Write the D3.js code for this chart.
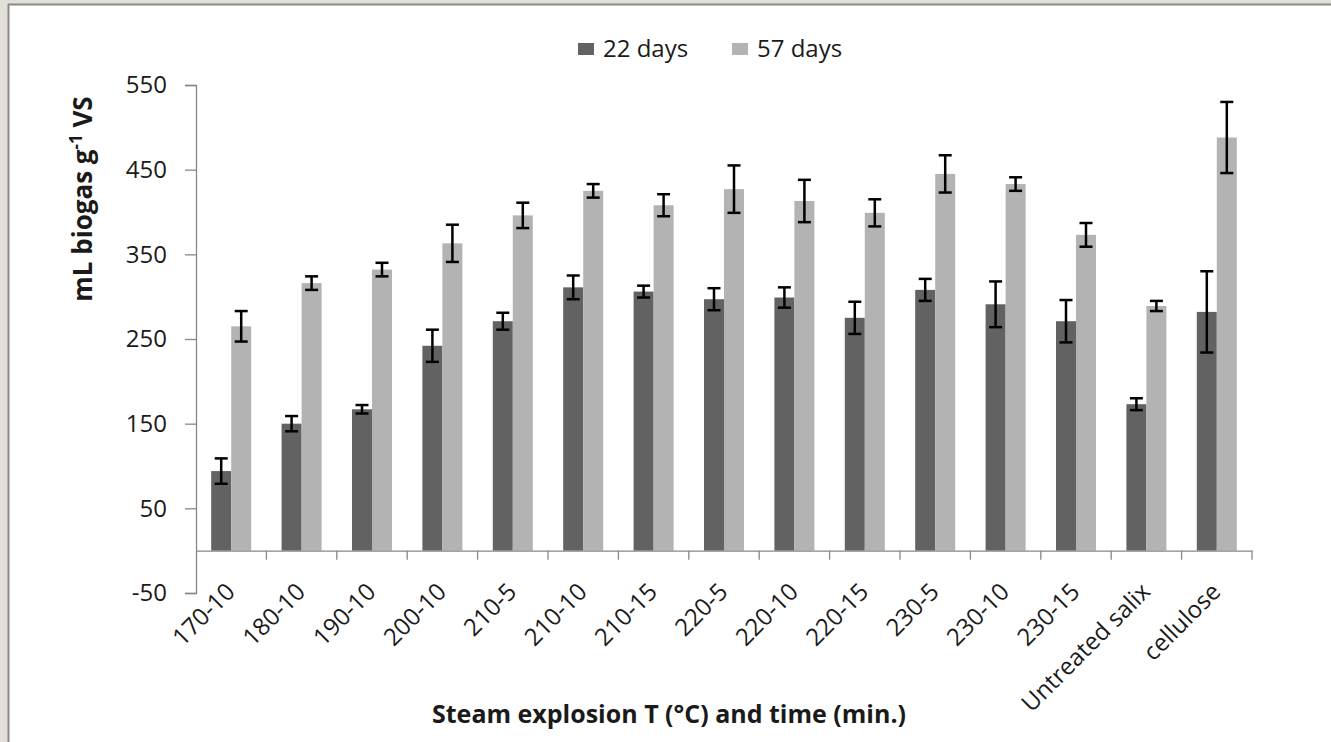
<!DOCTYPE html>
<html>
<head>
<meta charset="utf-8">
<script src="https://cdn.jsdelivr.net/npm/d3@7"></script>
<style>
  html, body { margin: 0; padding: 0; background: #e2ded8; }
  svg { display: block; }
  text { font-family: "Open Sans", "Liberation Sans", sans-serif; fill: #1a1a1a; }
</style>
</head>
<body>
<svg id="chart" width="1331" height="742"></svg>
<script>
const categories = ["170-10","180-10","190-10","200-10","210-5","210-10","210-15","220-5","220-10","220-15","230-5","230-10","230-15","Untreated salix","cellulose"];
const seriesNames = ["22 days","57 days"];
const days22 = [94, 150, 167, 242, 271, 311, 306, 297, 299, 275, 308, 291, 271, 173, 282];
const days22Err = [15, 9, 5, 19, 10, 14, 7, 13, 12, 19, 13, 27, 25, 7, 48];
const days57 = [265, 316, 332, 363, 396, 425, 408, 427, 413, 399, 445, 433, 373, 289, 488];
const days57Err = [18, 8, 8, 22, 15, 8, 13, 28, 25, 16, 22, 8, 14, 6, 42];
const yTicks = [-50, 50, 150, 250, 350, 450, 550];
const colors = ["#626262", "#b3b3b3"];

const svg = d3.select("#chart");
// frame
svg.append("rect").attr("x", 0).attr("y", 0).attr("width", 1331).attr("height", 742).attr("fill", "#e2ded8");
svg.append("rect").attr("x", 9).attr("y", 5).attr("width", 1322).attr("height", 737).attr("fill", "#ffffff");
svg.append("line").attr("x1", 8.5).attr("x2", 8.5).attr("y1", 4).attr("y2", 742).attr("stroke", "#8a8a8a").attr("stroke-width", 2);
svg.append("line").attr("x1", 8).attr("x2", 1331).attr("y1", 4.5).attr("y2", 4.5).attr("stroke", "#8a8a8a").attr("stroke-width", 2);

const x = d3.scaleBand().domain(categories).range([196, 1252]).paddingInner(0).paddingOuter(0);
const xs = d3.scaleBand().domain(seriesNames).range([0, x.bandwidth()]).paddingInner(0).paddingOuter(0.76);
const y = d3.scaleLinear().domain([-50, 550]).range([593, 85]);

const axisColor = "#878787";

// y axis
const yAxis = svg.append("g").attr("transform", "translate(196,0)")
  .call(d3.axisLeft(y).tickValues(yTicks).tickSize(11).tickPadding(18).tickFormat(d => String(d)));
yAxis.select(".domain").attr("stroke", axisColor).attr("stroke-width", 1.3);
yAxis.selectAll(".tick line").attr("stroke", axisColor).attr("stroke-width", 1.3);
yAxis.selectAll(".tick text").attr("font-size", 24).attr("fill", "#1a1a1a").attr("font-family", "Open Sans");

// bars
const data = categories.map((c, i) => ({
  cat: c,
  vals: [
    { s: seriesNames[0], v: days22[i], e: days22Err[i] },
    { s: seriesNames[1], v: days57[i], e: days57Err[i] }
  ]
}));

const groups = svg.append("g").selectAll("g").data(data).join("g")
  .attr("transform", d => `translate(${x(d.cat)},0)`);

groups.selectAll("rect").data(d => d.vals).join("rect")
  .attr("x", d => xs(d.s))
  .attr("width", xs.bandwidth())
  .attr("y", d => y(d.v))
  .attr("height", d => y(0) - y(d.v))
  .attr("fill", (d, i) => colors[i]);

// x axis at zero
const xAxis = svg.append("g").attr("transform", `translate(0,${y(0)})`)
  .call(d3.axisBottom(x).tickSize(0).tickFormat(""));
xAxis.select(".domain").attr("stroke", axisColor).attr("stroke-width", 1.3);
xAxis.selectAll(".tick").remove();
// tick marks at band boundaries
const bounds = categories.map(c => x(c)).concat([x.range()[1]]).slice(1);
svg.append("g").selectAll("line").data(bounds).join("line")
  .attr("x1", d => d).attr("x2", d => d)
  .attr("y1", y(0)).attr("y2", y(0) + 9)
  .attr("stroke", axisColor).attr("stroke-width", 1.3);

// error bars
const eb = groups.selectAll("g.err").data(d => d.vals).join("g").attr("class", "err");
eb.append("line")
  .attr("x1", d => xs(d.s) + xs.bandwidth() / 2).attr("x2", d => xs(d.s) + xs.bandwidth() / 2)
  .attr("y1", d => y(d.v + d.e)).attr("y2", d => y(d.v - d.e))
  .attr("stroke", "#000").attr("stroke-width", 2.5);
eb.append("line")
  .attr("x1", d => xs(d.s) + xs.bandwidth() / 2 - 6.5).attr("x2", d => xs(d.s) + xs.bandwidth() / 2 + 6.5)
  .attr("y1", d => y(d.v + d.e)).attr("y2", d => y(d.v + d.e))
  .attr("stroke", "#000").attr("stroke-width", 2.5);
eb.append("line")
  .attr("x1", d => xs(d.s) + xs.bandwidth() / 2 - 6.5).attr("x2", d => xs(d.s) + xs.bandwidth() / 2 + 6.5)
  .attr("y1", d => y(d.v - d.e)).attr("y2", d => y(d.v - d.e))
  .attr("stroke", "#000").attr("stroke-width", 2.5);

// x tick labels rotated
svg.append("g").selectAll("text").data(categories).join("text")
  .attr("transform", d => `translate(${x(d) + x.bandwidth() / 2 - 7},${581}) rotate(-45)`)
  .attr("text-anchor", "end")
  .attr("dy", "0.72em")
  .attr("font-size", 24)
  .text(d => d);

// axis titles
svg.append("text")
  .attr("x", 669).attr("y", 723)
  .attr("text-anchor", "middle")
  .attr("font-size", 25).attr("font-weight", "bold")
  .text("Steam explosion T (°C) and time (min.)");

const yt = svg.append("text")
  .attr("transform", "translate(92,199) rotate(-90)")
  .attr("text-anchor", "middle")
  .attr("font-size", 26).attr("font-weight", "bold");
yt.append("tspan").text("mL biogas g");
yt.append("tspan").attr("font-size", 17).attr("dy", -10).text("-1");
yt.append("tspan").attr("dy", 10).text(" VS");

// legend
const legend = svg.append("g");
const legX = [578, 732];
seriesNames.forEach((s, i) => {
  legend.append("rect").attr("x", legX[i]).attr("y", 43).attr("width", 16).attr("height", 12).attr("fill", colors[i]);
  legend.append("text").attr("x", legX[i] + 25).attr("y", 57).attr("font-size", 24).text(s);
});
</script>
</body>
</html>
